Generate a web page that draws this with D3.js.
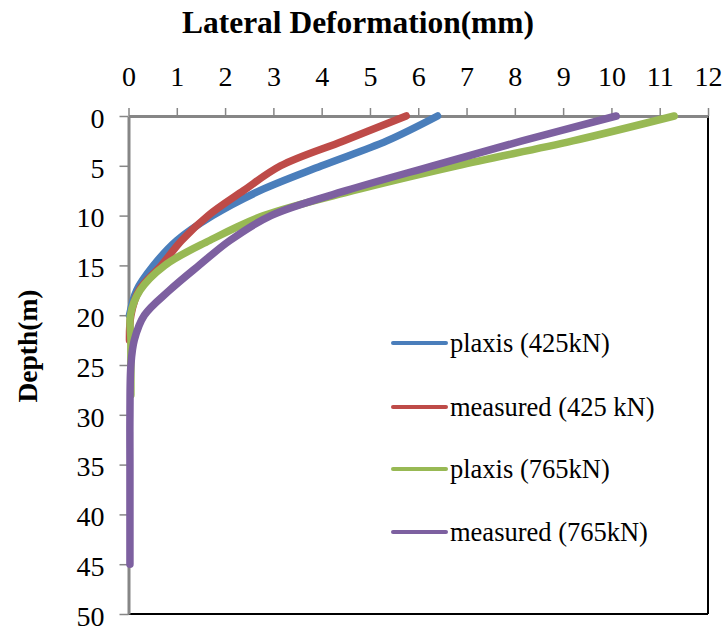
<!DOCTYPE html>
<html>
<head>
<meta charset="utf-8">
<script src="https://cdn.jsdelivr.net/npm/d3@7"></script>
<style>
  body { margin: 0; background: #fff; }
  svg, svg text { font-family: "Liberation Serif", "Times New Roman", serif; }
  svg { display: block; }
</style>
</head>
<body>
<svg id="chart" width="727" height="633"></svg>
<script>
// Lateral deformation (mm) by depth (m)
const depthsPlaxis425 = [0, 2.5, 5, 7.5, 10, 12.5, 15, 17.5, 20];
const plaxis425 = [6.4, 5.35, 4.0, 2.72, 1.74, 1.0, 0.52, 0.17, 0.02];

const depthsMeasured425 = [0, 2.5, 5, 7.5, 10, 12.5, 15, 17.5, 20, 22.5];
const measured425 = [5.75, 4.45, 3.15, 2.38, 1.65, 1.1, 0.68, 0.22, 0.05, 0.02];

const depthsPlaxis765 = [0, 2.5, 5, 7.5, 10, 12.5, 15, 17.5, 20, 22.5, 25, 28];
const plaxis765 = [11.3, 9.2, 6.8, 4.65, 2.8, 1.68, 0.75, 0.24, 0.04, 0.05, 0.05, 0.05];

const depthsMeasured765 = [0, 2.5, 5, 7.5, 10, 12.5, 15, 17.5, 20, 22.5, 25, 30, 35, 40, 45];
const measured765 = [10.1, 8.15, 6.3, 4.5, 2.95, 2.1, 1.46, 0.85, 0.33, 0.12, 0.05, 0.03, 0.03, 0.03, 0.03];

const seriesNames = ["plaxis (425kN)", "measured (425 kN)", "plaxis (765kN)", "measured (765kN)"];
const seriesColors = ["#4a7ebb", "#be4b48", "#98b954", "#7d60a0"];

const xTicks = d3.range(0, 13, 1);
const yTicks = d3.range(0, 51, 5);

const FONT = '"Liberation Serif", "Times New Roman", serif';
const svg = d3.select("#chart");

// Plot area
const plotLeft = 128.5, plotRight = 708, plotTop = 116, plotBottom = 614;
const x = d3.scaleLinear().domain([0, 12]).range([plotLeft, plotRight]);
const y = d3.scaleLinear().domain([0, 50]).range([plotTop, plotBottom]);

// Plot border (right and bottom)
svg.append("line")
  .attr("x1", plotRight).attr("x2", plotRight)
  .attr("y1", plotTop).attr("y2", plotBottom)
  .attr("stroke", "#000").attr("stroke-width", 2);
svg.append("line")
  .attr("x1", plotLeft).attr("x2", plotRight)
  .attr("y1", plotBottom).attr("y2", plotBottom)
  .attr("stroke", "#000").attr("stroke-width", 2);

// Top x axis
const xAxis = svg.append("g")
  .attr("transform", `translate(0,${plotTop})`)
  .call(d3.axisTop(x).tickValues(xTicks).tickSize(8).tickSizeOuter(0).tickPadding(22));
xAxis.attr("font-family", null).attr("font-size", null);
xAxis.select(".domain").attr("stroke", "#868686").attr("stroke-width", 3);
xAxis.selectAll(".tick line").attr("stroke", "#868686").attr("stroke-width", 1.5);
xAxis.selectAll(".tick text")
  .style("font-family", FONT)
  .style("font-size", "28px").attr("fill", "#000");

// Left y axis
const yAxis = svg.append("g")
  .attr("transform", `translate(${plotLeft},0)`)
  .call(d3.axisLeft(y).tickValues(yTicks).tickSize(9).tickSizeOuter(0).tickPadding(15));
yAxis.attr("font-family", null).attr("font-size", null);
yAxis.select(".domain").attr("stroke", "#868686").attr("stroke-width", 3);
yAxis.selectAll(".tick line").attr("stroke", "#868686").attr("stroke-width", 1.5);
yAxis.selectAll(".tick text")
  .style("font-family", FONT)
  .style("font-size", "28px").attr("fill", "#000")
  .attr("dy", "0.4em");

// Series lines
const series = [
  { depths: depthsPlaxis425, values: plaxis425 },
  { depths: depthsMeasured425, values: measured425 },
  { depths: depthsPlaxis765, values: plaxis765 },
  { depths: depthsMeasured765, values: measured765 },
];

const line = d3.line()
  .x((d) => x(d[1]))
  .y((d) => y(d[0]))
  .curve(d3.curveCatmullRom.alpha(0.5));

series.forEach((s, i) => {
  svg.append("path")
    .datum(s.depths.map((d, j) => [d, s.values[j]]))
    .attr("d", line)
    .attr("fill", "none")
    .attr("stroke", seriesColors[i])
    .attr("stroke-width", 7.5)
    .attr("stroke-linecap", "round")
    .attr("stroke-linejoin", "round");
});

// Legend
const legendRows = [343, 407, 469, 532];
seriesNames.forEach((name, i) => {
  const g = svg.append("g").attr("transform", `translate(0,${legendRows[i]})`);
  g.append("line")
    .attr("x1", 393).attr("x2", 446)
    .attr("stroke", seriesColors[i]).attr("stroke-width", 4)
    .attr("stroke-linecap", "round");
  g.append("text")
    .attr("x", 450).attr("y", 9)
    .style("font-family", FONT)
    .style("font-size", "26.5px")
    .text(name);
});

// Titles
svg.append("text")
  .attr("x", 358).attr("y", 33)
  .attr("text-anchor", "middle")
  .style("font-family", FONT)
  .style("font-weight", "bold")
  .style("font-size", "31px")
  .attr("textLength", 352)
  .attr("lengthAdjust", "spacingAndGlyphs")
  .text("Lateral Deformation(mm)");

svg.append("text")
  .attr("transform", "translate(37,346) rotate(-90)")
  .attr("text-anchor", "middle")
  .style("font-family", FONT)
  .style("font-weight", "bold")
  .style("font-size", "28px")
  .attr("textLength", 113)
  .attr("lengthAdjust", "spacingAndGlyphs")
  .text("Depth(m)");
</script>
</body>
</html>
